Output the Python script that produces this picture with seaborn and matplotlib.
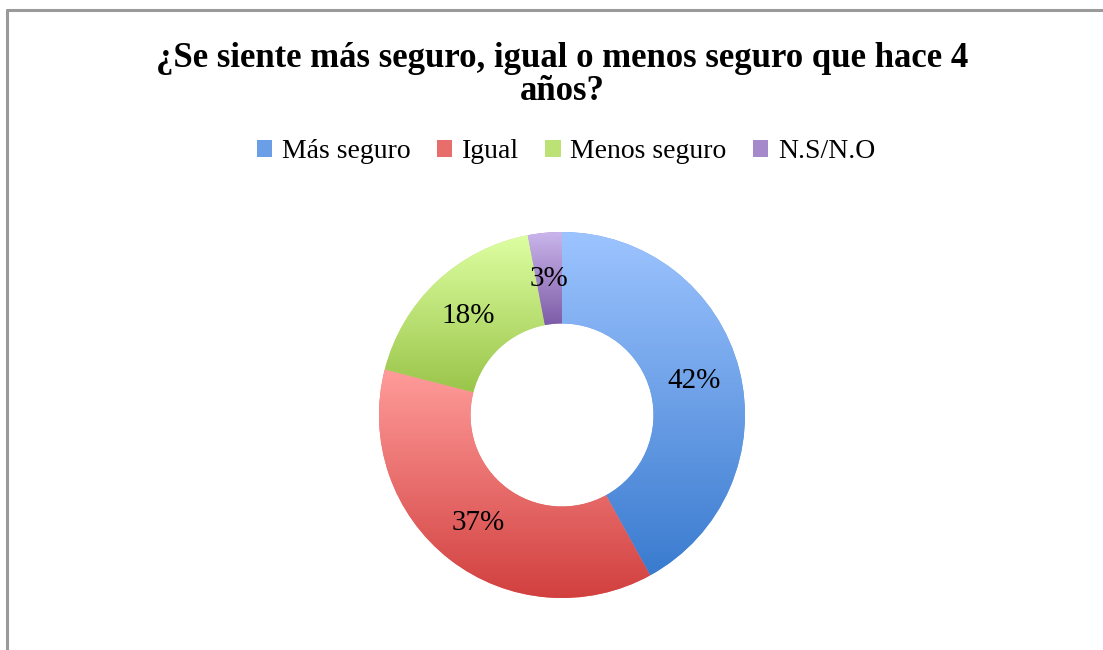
import numpy as np
import matplotlib
matplotlib.use("Agg")
import matplotlib.pyplot as plt
from matplotlib.colors import LinearSegmentedColormap
from matplotlib.patches import Patch
from matplotlib.lines import Line2D
import seaborn as sns

# datos
categorias = ["Más seguro", "Igual", "Menos seguro", "N.S/N.O"]
valores = [42, 37, 18, 3]
etiquetas = ["42%", "37%", "18%", "3%"]
colores_claros = ["#9DC4FF", "#FF9C9A", "#DEFFA2", "#CBB6EC"]
colores_oscuros = ["#3A7BCF", "#D1403F", "#9AC54A", "#7D5CA7"]
colores_medios = ["#6A9FE8", "#E86E6C", "#BCE276", "#A589CA"]

sns.set_style("white")
plt.rcParams["font.family"] = ["Liberation Serif", "DejaVu Serif"]
plt.rcParams["text.color"] = "black"

W, H = 1103, 650
fig = plt.figure(figsize=(W / 100, H / 100), dpi=100)
fig.patch.set_facecolor("white")

# borde del gráfico
fig.add_artist(Line2D([7 / W, 1.0], [1 - 10 / H, 1 - 10 / H], color="#9a9a9a", lw=2.2))
fig.add_artist(Line2D([7 / W, 7 / W], [1 - 10 / H, 0.0], color="#9a9a9a", lw=2.2))

# título
fig.text(562 / W, 1 - 75 / H,
         "¿Se siente más seguro, igual o menos seguro que hace 4\naños?",
         ha="center", va="center", fontsize=25, fontweight="bold",
         linespacing=1.02)

# anillo
cx, cy, r = 562, 415, 183
ax = fig.add_axes([(cx - r) / W, (H - cy - r) / H, 2 * r / W, 2 * r / H])
wedges, textos, autotextos = ax.pie(
    valores, startangle=90, counterclock=False, radius=1.0,
    colors=colores_medios, autopct="%1.0f%%", pctdistance=0.745,
    wedgeprops=dict(width=0.5, edgecolor="none"),
    textprops=dict(fontsize=21, color="black"))

for t, et in zip(autotextos, etiquetas):
    t.set_text(et)
    t.set_zorder(5)

# degradado vertical dentro de cada sector
for w, c1, c2 in zip(wedges, colores_claros, colores_oscuros):
    ext = w.get_path().get_extents()
    cmap = LinearSegmentedColormap.from_list("g", [c2, c1])
    grad = np.linspace(0, 1, 256).reshape(-1, 1)
    im = ax.imshow(grad, cmap=cmap, origin="lower", aspect="auto",
                   extent=(ext.x0, ext.x1, ext.y0, ext.y1), zorder=2)
    im.set_clip_path(w)

ax.set_xlim(-1, 1)
ax.set_ylim(-1, 1)
ax.set_aspect("equal")
ax.axis("off")

# leyenda
handles = [Patch(facecolor=c, edgecolor="none") for c in colores_medios]
fig.legend(handles, categorias, loc="center", bbox_to_anchor=(566 / W, 1 - 152 / H),
           ncol=4, frameon=False, fontsize=20, handlelength=0.55, handleheight=0.55,
           handletextpad=0.35, columnspacing=0.95)

fig.savefig("out.png", dpi=100)
